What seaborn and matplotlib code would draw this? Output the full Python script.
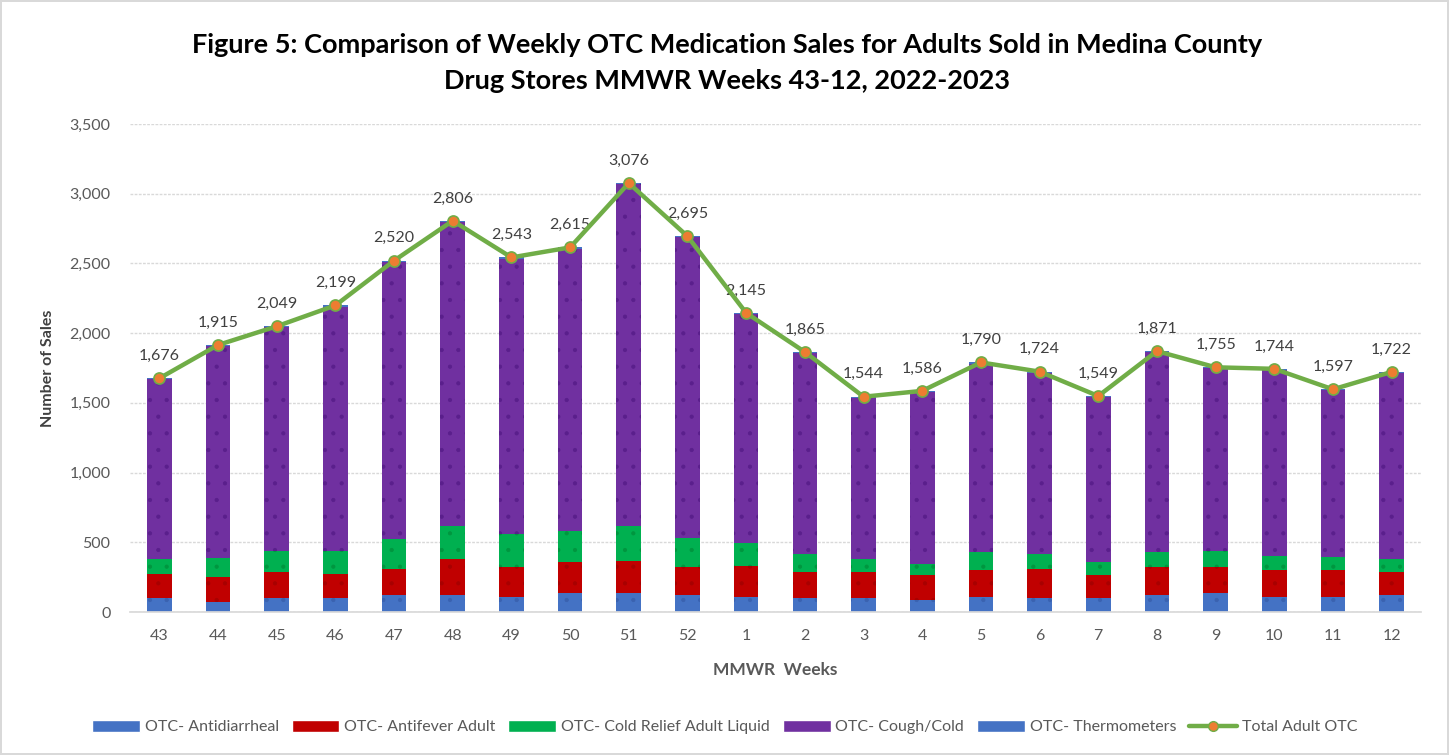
import numpy as np
import pandas as pd
import matplotlib
matplotlib.use("Agg")
import matplotlib.pyplot as plt
import seaborn as sns
from matplotlib.patches import Patch
from matplotlib.lines import Line2D

weeks = ["43", "44", "45", "46", "47", "48", "49", "50", "51", "52",
         "1", "2", "3", "4", "5", "6", "7", "8", "9", "10", "11", "12"]
antidiarrheal = [98, 74, 98, 98, 121, 121, 109, 133, 133, 121, 109, 98, 98, 86, 109, 98, 98, 121, 133, 109, 109, 121]
antifever = [178, 178, 190, 178, 188, 260, 215, 224, 236, 203, 224, 190, 190, 178, 191, 211, 166, 203, 191, 191, 191, 167]
cold_relief = [105, 138, 152, 164, 212, 235, 233, 224, 247, 209, 164, 128, 93, 81, 128, 107, 93, 104, 116, 105, 93, 93]
cough_cold = [1287, 1517, 1601, 1751, 1991, 2182, 1978, 2026, 2452, 2154, 1640, 1441, 1155, 1233, 1354, 1300, 1184, 1435, 1307, 1331, 1196, 1333]
thermometers = [8] * 22
totals = [1676, 1915, 2049, 2199, 2520, 2806, 2543, 2615, 3076, 2695, 2145, 1865, 1544, 1586, 1790, 1724, 1549, 1871, 1755, 1744, 1597, 1722]

series_names = ["OTC- Antidiarrheal", "OTC- Antifever Adult", "OTC- Cold Relief Adult Liquid",
                "OTC- Cough/Cold", "OTC- Thermometers"]
series = [antidiarrheal, antifever, cold_relief, cough_cold, thermometers]
colors = ["#4472C4", "#C00000", "#00B050", "#7030A0", "#4472C4"]
hatch_colors = ["#3a62b0", "#a80000", "#00963f", "#5a1f8c", "#3a62b0"]

sns.set_theme(style="white")
plt.rcParams['font.family'] = ['Lato', 'DejaVu Sans']
plt.rcParams['hatch.linewidth'] = 0.6

fig = plt.figure(figsize=(14.49, 7.55), dpi=100)
fig.patch.set_edgecolor("#D9D9D9")
fig.patch.set_linewidth(1.5)
ax = fig.add_axes([130 / 1449, 1 - 612 / 755, (1421 - 130) / 1449, (612 - 124) / 755])

df = pd.DataFrame({"week": weeks})
cum = np.zeros(len(weeks))
cums = []
for s in series:
    cum = cum + np.array(s)
    cums.append(cum.copy())

# draw from top of stack down so lower layers overlay
for i in reversed(range(len(series))):
    d = df.copy()
    d["val"] = cums[i]
    sns.barplot(data=d, x="week", y="val", color=colors[i], width=0.42, ax=ax,
                saturation=1, edgecolor=hatch_colors[i], linewidth=0, hatch=".",
                order=weeks)

x = np.arange(len(weeks))
sns.lineplot(x=x, y=totals, ax=ax, color="#70AD47", linewidth=3.2, marker="o",
             markersize=8, markerfacecolor="#ED7D31", markeredgecolor="#70AD47",
             markeredgewidth=1.2, zorder=5)
for xi, t in zip(x, totals):
    ax.text(xi, t + 110, f"{t:,}", ha="center", va="bottom", fontsize=11.5, color="#404040")

ax.set_xlim(-0.5, len(weeks) - 0.5)
ax.set_ylim(0, 3500)
ax.set_yticks(np.arange(0, 3501, 500))
ax.set_yticklabels([f"{v:,}" for v in np.arange(0, 3501, 500)])
ax.grid(axis="y", color="#D9D9D9", linestyle=(0, (2, 1)), linewidth=1)
ax.set_axisbelow(True)
for sp in ["top", "right", "left"]:
    ax.spines[sp].set_visible(False)
ax.spines["bottom"].set_color("#D9D9D9")
ax.tick_params(axis="both", length=0, labelsize=11.5, colors="#595959")
ax.tick_params(axis="x", pad=12)
ax.tick_params(axis="y", pad=14)
ax.set_xlabel("MMWR  Weeks", fontsize=12.5, fontweight="bold", color="#595959", labelpad=14)
ax.set_ylabel("Number of Sales", fontsize=11.5, fontweight="bold", color="#404040", labelpad=10)

fig.text(0.502, 0.94, "Figure 5: Comparison of Weekly OTC Medication Sales for Adults Sold in Medina County",
         ha="center", va="center", fontsize=19.5, fontweight="bold", color="#000000")
fig.text(0.502, 0.893, "Drug Stores MMWR Weeks 43-12, 2022-2023",
         ha="center", va="center", fontsize=19.5, fontweight="bold", color="#000000")

handles = [Patch(facecolor=c, label=n) for c, n in zip(colors, series_names)]
handles.append(Line2D([0], [0], color="#70AD47", linewidth=3.2, marker="o", markersize=7,
                      markerfacecolor="#ED7D31", markeredgecolor="#70AD47", label="Total Adult OTC"))
fig.legend(handles=handles, loc="center", bbox_to_anchor=(0.5, 1 - 727 / 755), ncol=6,
           frameon=False, fontsize=11.5, handlelength=3, handleheight=0.8, columnspacing=0.8,
           handletextpad=0.3, labelcolor="#595959")

fig.savefig("out.png", dpi=100)
